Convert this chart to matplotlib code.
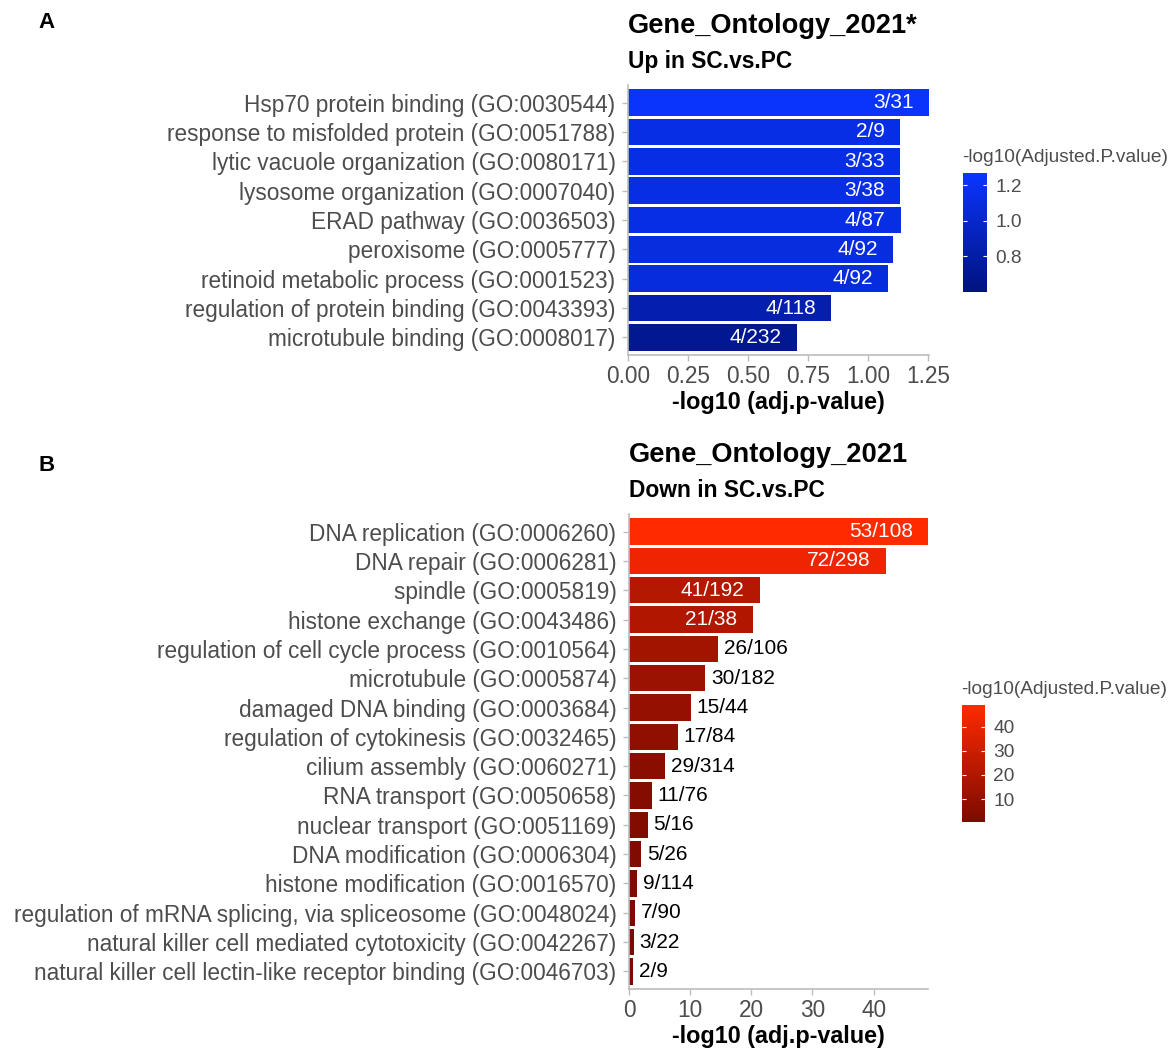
import numpy as np
import matplotlib
matplotlib.use("Agg")
import matplotlib.pyplot as plt
from matplotlib.colors import LinearSegmentedColormap, Normalize
from matplotlib.cm import ScalarMappable

plt.rcParams['font.family'] = ['Liberation Sans', 'DejaVu Sans']

# panel A: up in SC.vs.PC
up_terms = ["Hsp70 protein binding (GO:0030544)",
            "response to misfolded protein (GO:0051788)",
            "lytic vacuole organization (GO:0080171)",
            "lysosome organization (GO:0007040)",
            "ERAD pathway (GO:0036503)",
            "peroxisome (GO:0005777)",
            "retinoid metabolic process (GO:0001523)",
            "regulation of protein binding (GO:0043393)",
            "microtubule binding (GO:0008017)"]
up_vals = [1.253, 1.133, 1.133, 1.133, 1.135, 1.103, 1.084, 0.846, 0.703]
up_overlap = ["3/31", "2/9", "3/33", "3/38", "4/87", "4/92", "4/92", "4/118", "4/232"]

# panel B: down in SC.vs.PC
down_terms = ["DNA replication (GO:0006260)",
              "DNA repair (GO:0006281)",
              "spindle (GO:0005819)",
              "histone exchange (GO:0043486)",
              "regulation of cell cycle process (GO:0010564)",
              "microtubule (GO:0005874)",
              "damaged DNA binding (GO:0003684)",
              "regulation of cytokinesis (GO:0032465)",
              "cilium assembly (GO:0060271)",
              "RNA transport (GO:0050658)",
              "nuclear transport (GO:0051169)",
              "DNA modification (GO:0006304)",
              "histone modification (GO:0016570)",
              "regulation of mRNA splicing, via spliceosome (GO:0048024)",
              "natural killer cell mediated cytotoxicity (GO:0042267)",
              "natural killer cell lectin-like receptor binding (GO:0046703)"]
down_vals = [48.9, 42.0, 21.4, 20.2, 14.6, 12.5, 10.1, 8.0, 5.9,
             3.8, 3.1, 2.0, 1.3, 1.0, 0.8, 0.7]
down_overlap = ["53/108", "72/298", "41/192", "21/38", "26/106", "30/182", "15/44",
                "17/84", "29/314", "11/76", "5/16", "5/26", "9/114", "7/90", "3/22", "2/9"]

W, H = 1175, 1048
fig = plt.figure(figsize=(W / 100, H / 100), dpi=100)

def px(x0, y0, x1, y1):
    # pixel box -> figure fraction rect
    return [x0 / W, 1 - y1 / H, (x1 - x0) / W, (y1 - y0) / H]

axis_grey = "#bdbdbd"
label_grey = "#4d4d4d"
fs = 16.3


def panel(rect, cb_rect, terms, vals, overlap, cmap, vmin, vmax, cbticks, title, sub, xticks, xfmt, title_y):
    ax = fig.add_axes(rect)
    n = len(vals)
    y = np.arange(n)[::-1]
    norm = Normalize(vmin, vmax)
    ax.barh(y, vals, height=0.9, color=cmap(norm(np.array(vals))), edgecolor="none")
    ax.set_xlim(0, max(vals))
    ax.set_ylim(-0.6, n - 1 + 0.6)
    ax.set_yticks(y)
    ax.set_yticklabels(terms, fontsize=fs, color=label_grey)
    ax.set_xticks(xticks)
    ax.set_xticklabels([xfmt.format(t) for t in xticks], fontsize=fs, color=label_grey)
    ax.set_xlabel("-log10 (adj.p-value)", fontsize=16.8, fontweight="bold", labelpad=2)
    for s in ["top", "right"]:
        ax.spines[s].set_visible(False)
    for s in ["left", "bottom"]:
        ax.spines[s].set_color(axis_grey)
        ax.spines[s].set_linewidth(1.2)
    ax.tick_params(colors=axis_grey, length=4, width=1.0, pad=3)
    ax.tick_params(axis="y", pad=5)
    ax.tick_params(axis="x", labelcolor=label_grey)
    ax.tick_params(axis="y", labelcolor=label_grey)
    big = max(vals)
    for yi, v, lab in zip(y, vals, overlap):
        if v > big / 3:
            ax.annotate(lab, (v, yi), xytext=(-11, 0), textcoords="offset points",
                        ha="right", va="center", color="white", fontsize=15)
        else:
            ax.annotate(lab, (v, yi), xytext=(4, 0), textcoords="offset points",
                        ha="left", va="center", color="black", fontsize=15)
    # titles
    fig.text(rect[0], title_y, title, fontsize=19.6, fontweight="bold", va="baseline")
    fig.text(rect[0], title_y - 35 / H, sub, fontsize=16.4, fontweight="bold", va="baseline")

    cax = fig.add_axes(cb_rect)
    cb = fig.colorbar(ScalarMappable(norm=norm, cmap=cmap), cax=cax)
    cb.outline.set_visible(False)
    cb.set_ticks(cbticks)
    cb.ax.tick_params(length=3, width=0.8, color="white", labelsize=13.8,
                      labelcolor=label_grey, pad=6, direction="in")
    cb.ax.yaxis.set_ticks_position("both")
    cb.ax.tick_params(labelleft=False)
    cax.set_title("-log10(Adjusted.P.value)", fontsize=13.8, color=label_grey,
                  loc="left", pad=8, x=-0.05)
    return ax


blue = LinearSegmentedColormap.from_list("blues", ["#00137e", "#0a35ff"])
red = LinearSegmentedColormap.from_list("reds", ["#7c0a00", "#ff2a00"])

panel(px(628, 85, 929, 355), px(963, 173, 987, 292), up_terms, up_vals, up_overlap,
      blue, 0.60, 1.27, [0.8, 1.0, 1.2], "Gene_Ontology_2021*", "Up in SC.vs.PC",
      [0, 0.25, 0.5, 0.75, 1.0, 1.25], "{:.2f}", 1 - 33 / H)

panel(px(629, 514, 928, 989), px(962, 705, 985, 822), down_terms, down_vals, down_overlap,
      red, 0.5, 49, [10, 20, 30, 40], "Gene_Ontology_2021", "Down in SC.vs.PC",
      [0, 10, 20, 30, 40], "{:.0f}", 1 - 462 / H)

fig.text(38 / W, 1 - 28 / H, "A", fontsize=16, fontweight="bold", va="baseline")
fig.text(38 / W, 1 - 471 / H, "B", fontsize=16, fontweight="bold", va="baseline")

fig.savefig("out.png", dpi=100, facecolor="white")
